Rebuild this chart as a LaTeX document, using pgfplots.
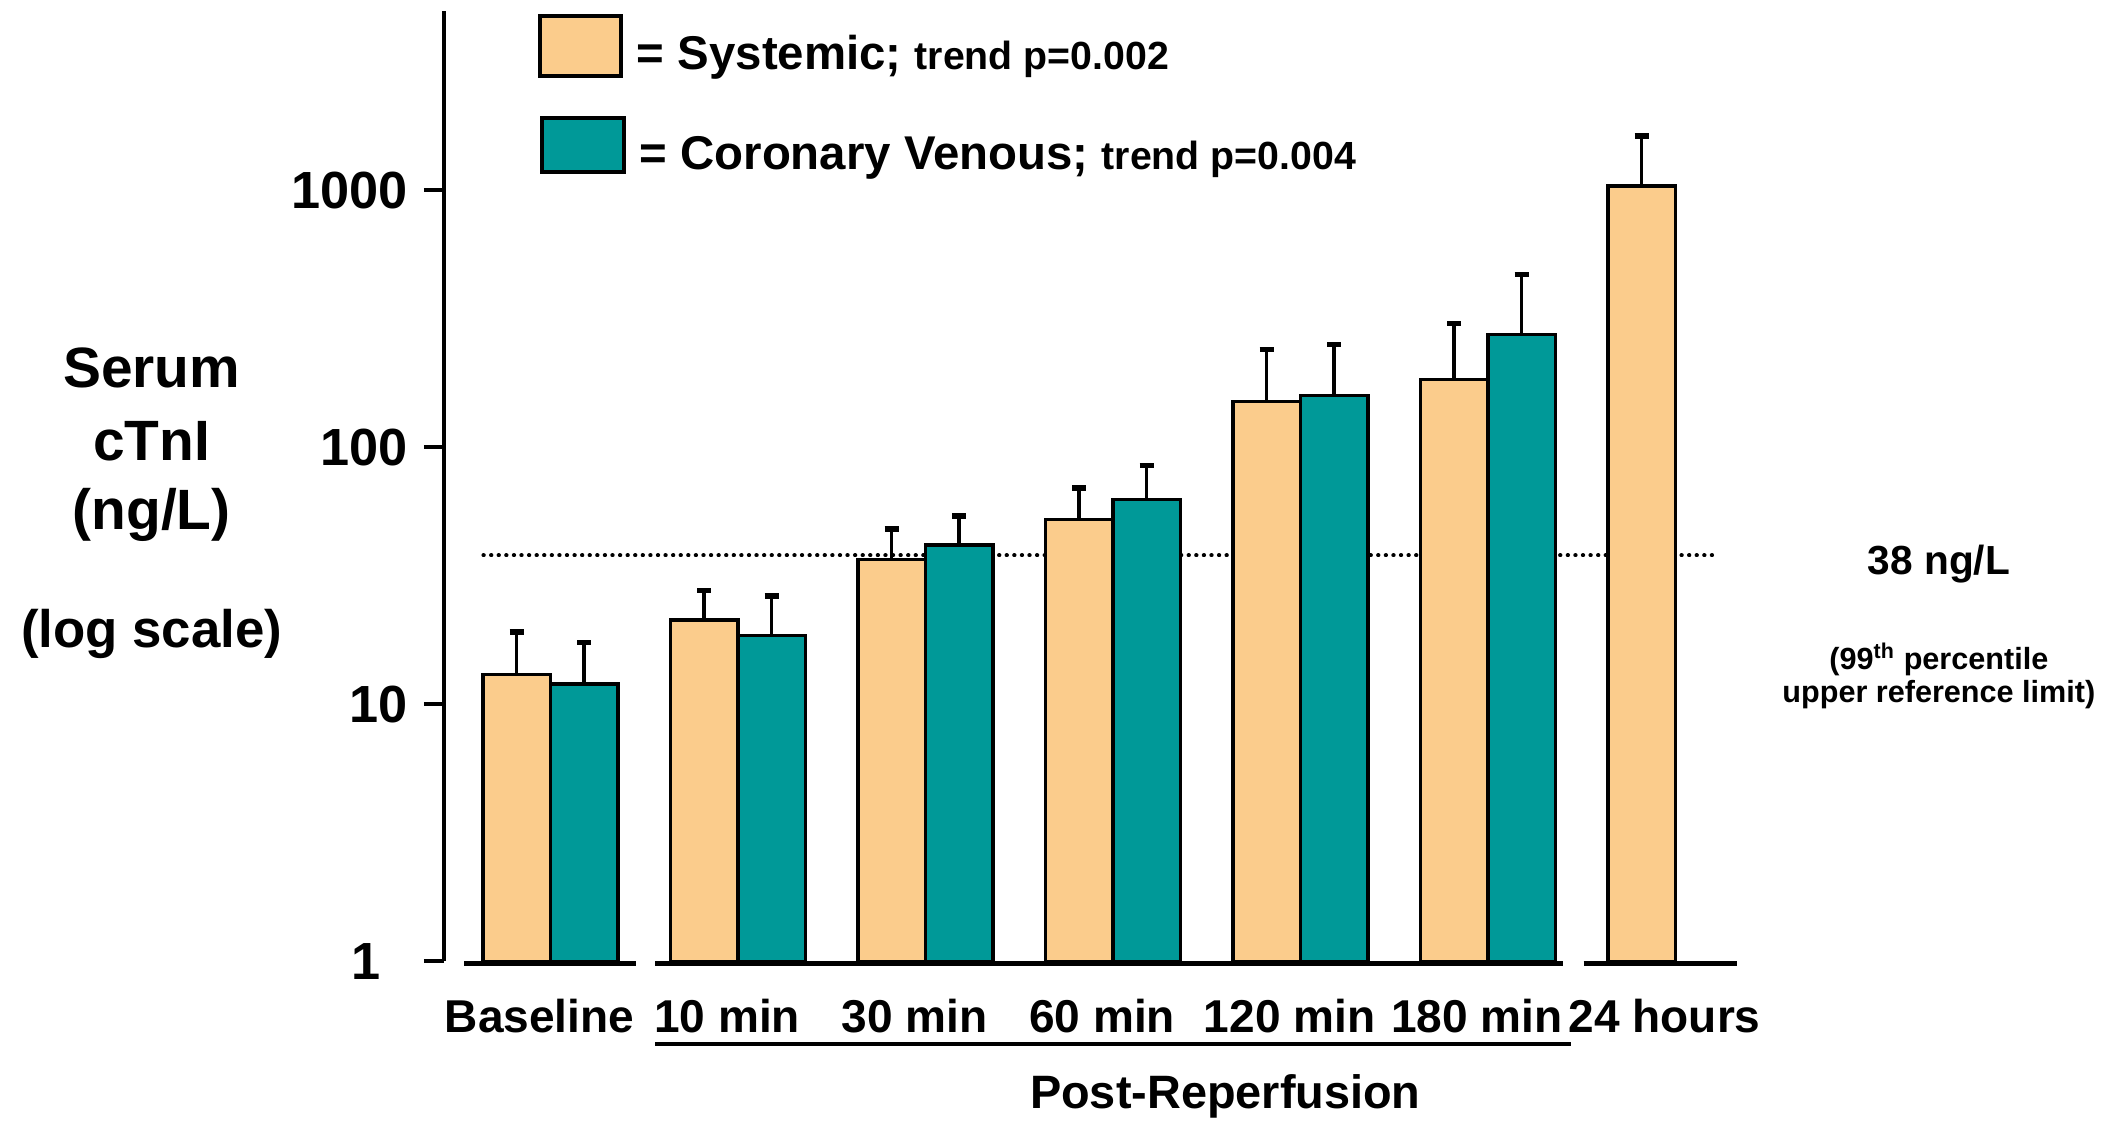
\documentclass[border=0pt]{standalone}
\usepackage{pgfplots}
\usepackage{pgfplotstable}
\pgfplotsset{compat=1.18}
\usepackage{fontspec}
\setmainfont{Liberation Sans}
\definecolor{peach}{RGB}{251,204,140}
\definecolor{teal2}{RGB}{0,153,152}

% x = group index (0 = Baseline ... 6 = 24 hours) shifted to the bar's own position
\pgfplotstableread{
x y e
-0.18 13.1 6.0
0.82 21.3 6.4
1.82 36.6 11.5
2.82 52.5 17.0
3.82 151 90
4.82 184 119
5.82 1040 590
}\systemic

\pgfplotstableread{
x y e
0.18 12.0 5.4
1.18 18.5 7.9
2.18 41.7 12.4
3.18 62.5 22.5
4.18 159 92
5.18 275 195
}\coronary

\begin{document}
\begin{tikzpicture}
\begin{axis}[
  at={(0,0)}, anchor=south west,
  scale only axis,
  width=477.5pt, height=351pt,
  xmin=-0.567, xmax=6.329,
  ymode=log, ymin=1, ymax=5000,
  log origin=0,
  axis lines=left,
  axis line style={-, line width=1.5pt},
  x axis line style={draw=none},
  xtick={0,1,2,3,4,5,6},
  xticklabels={Baseline,10 min,30 min,60 min,120 min,180 min,24 hours},
  xtick style={draw=none},
  xticklabel style={font=\fontsize{17}{20}\selectfont\bfseries, xshift=-4pt, yshift=-3pt},
  ytick={1,10,100,1000},
  yticklabels={{1\hspace*{10pt}},10,100,1000},
  yminorticks=false,
  tick align=outside,
  major tick length=7.5pt,
  ytick style={line width=1.5pt, black},
  yticklabel style={font=\fontsize{19.3}{22}\selectfont\bfseries, xshift=-2.5pt},
  clip=false,
]
\addplot[black, line cap=round, dash pattern=on 0.1pt off 2.7pt, line width=1.5pt, forget plot] coordinates {(-0.357,38) (6.206,38)};

\addplot[ybar, bar width=0.36, bar shift=0pt, fill=peach, draw=black, line width=1.2pt,
  error bars/.cd, y dir=plus, y explicit, error mark=|,
  error bar style={line width=1.3pt, black},
  error mark options={line width=2pt, mark size=2.6pt, black}]
  table[x=x, y=y, y error plus=e]{\systemic};

\addplot[ybar, bar width=0.36, bar shift=0pt, fill=teal2, draw=black, line width=1.2pt,
  error bars/.cd, y dir=plus, y explicit, error mark=|,
  error bar style={line width=1.3pt, black},
  error mark options={line width=2pt, mark size=2.6pt, black}]
  table[x=x, y=y, y error plus=e]{\coronary};

\draw[line width=2pt] ([yshift=-0.8pt]axis cs:-0.459,1) -- ([yshift=-0.8pt]axis cs:0.458,1);
\draw[line width=2pt] ([yshift=-0.8pt]axis cs:0.56,1) -- ([yshift=-0.8pt]axis cs:5.40,1);
\draw[line width=2pt] ([yshift=-0.8pt]axis cs:5.51,1) -- ([yshift=-0.8pt]axis cs:6.329,1);
\end{axis}

% legend
\draw[fill=peach, draw=black, line width=1.5pt] (35.5pt,327pt) rectangle (65.5pt,349pt);
\node[anchor=base west, inner sep=0pt, font=\fontsize{17.5}{21}\selectfont\bfseries] at (71pt,329.5pt)
  {= Systemic; {\fontsize{14.5}{17}\selectfont trend p=0.002}};
\draw[fill=teal2, draw=black, line width=1.5pt] (36pt,291.5pt) rectangle (66.5pt,311.5pt);
\node[anchor=base west, inner sep=0pt, font=\fontsize{17.5}{21}\selectfont\bfseries] at (72pt,292.5pt)
  {= Coronary Venous; {\fontsize{14.5}{17}\selectfont trend p=0.004}};

% y label
\node[font=\fontsize{21}{24}\selectfont\bfseries] at (-108pt,219pt) {Serum};
\node[font=\fontsize{21}{24}\selectfont\bfseries] at (-108pt,192pt) {cTnI};
\node[font=\fontsize{21}{24}\selectfont\bfseries] at (-108pt,165pt) {(ng/L)};
\node[font=\fontsize{19.5}{22}\selectfont\bfseries] at (-108pt,121pt) {(log scale)};

% underline and group label
\draw[line width=1.3pt] (78pt,-30.5pt) -- (416pt,-30.5pt);
\node[font=\fontsize{17.3}{20}\selectfont\bfseries] at (288.5pt,-50pt) {Post-Reperfusion};

% reference annotation
\node[font=\fontsize{15}{18}\selectfont\bfseries] at (552pt,146.5pt) {38 ng/L};
\node[font=\fontsize{11.3}{13}\selectfont\bfseries] at (552pt,111.5pt) {(99\textsuperscript{th} percentile};
\node[font=\fontsize{11.3}{13}\selectfont\bfseries] at (552pt,98.5pt) {upper reference limit)};

\pgfresetboundingbox
\path[use as bounding box] (-164pt,-59pt) rectangle (620pt,355pt);
\end{tikzpicture}
\end{document}
